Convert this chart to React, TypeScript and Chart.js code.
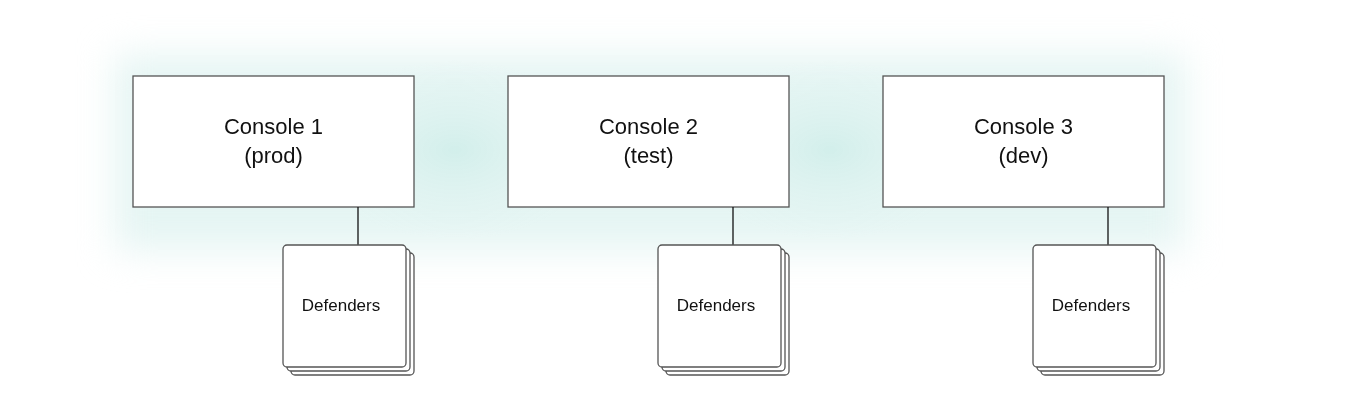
import { Chart } from "chart.js/auto"
import { useEffect, useRef } from "react"

// diagram layout in data units (x: 0..1372, y: 0..416 top-down)
const consoleTitles = ["Console 1", "Console 2", "Console 3"]
const consoleEnvs = ["(prod)", "(test)", "(dev)"]
const consoleLeft = [133, 508, 883]
const consoleWidth = 281
const consoleTop = 76
const consoleBottom = 207
const defenderLeft = [283, 658, 1033]
const defenderWidth = 123
const defenderTop = 245
const defenderBottom = 367
const defenderLabel = "Defenders"
const glowCenters = [455, 830]

const diagramPlugin = {
    id: "diagram",
    beforeDatasetsDraw(chart: any) {
        const ctx = chart.ctx
        const sx = chart.scales.x
        const sy = chart.scales.y
        const X = (v: number) => sx.getPixelForValue(v)
        const Y = (v: number) => sy.getPixelForValue(v)

        // soft teal band behind the boxes
        ctx.save()
        ctx.filter = "blur(18px)"
        ctx.fillStyle = "rgba(226,244,242,0.9)"
        ctx.fillRect(X(115), Y(55), X(1185) - X(115), Y(250) - Y(55))
        ctx.restore()
        glowCenters.forEach((c) => {
            ctx.save()
            ctx.translate(X(c), Y(150))
            ctx.scale(1.6, 1)
            const g = ctx.createRadialGradient(0, 0, 0, 0, 0, 90)
            g.addColorStop(0, "rgba(208,238,234,0.9)")
            g.addColorStop(1, "rgba(226,244,242,0)")
            ctx.fillStyle = g
            ctx.beginPath()
            ctx.arc(0, 0, 90, 0, Math.PI * 2)
            ctx.fill()
            ctx.restore()
        })

        ctx.lineWidth = 1.3
        ctx.strokeStyle = "#555"
        consoleLeft.forEach((left, i) => {
            const x0 = X(left), x1 = X(left + consoleWidth)
            const y0 = Y(consoleTop), y1 = Y(consoleBottom)
            ctx.fillStyle = "#fff"
            ctx.fillRect(x0, y0, x1 - x0, y1 - y0)
            ctx.strokeRect(x0, y0, x1 - x0, y1 - y0)
            ctx.fillStyle = "#111"
            ctx.font = "22px 'Liberation Sans', Arial, sans-serif"
            ctx.textAlign = "center"
            ctx.textBaseline = "middle"
            const cx = (x0 + x1) / 2
            ctx.fillText(consoleTitles[i], cx, Y(128))
            ctx.fillText(consoleEnvs[i], cx, Y(157))

            // connector
            const dl = defenderLeft[i]
            const lx = X(dl + 75)
            ctx.strokeStyle = "#111"
            ctx.beginPath()
            ctx.moveTo(lx, y1)
            ctx.lineTo(lx, Y(defenderTop))
            ctx.stroke()
            ctx.strokeStyle = "#555"

            // stacked defender cards
            for (let k = 2; k >= 0; k--) {
                const off = k * 4
                const dx0 = X(dl) + off, dx1 = X(dl + defenderWidth) + off
                const dy0 = Y(defenderTop) + off, dy1 = Y(defenderBottom) + off
                ctx.fillStyle = "#fff"
                ctx.beginPath()
                ctx.roundRect(dx0, dy0, dx1 - dx0, dy1 - dy0, 4)
                ctx.fill()
                ctx.stroke()
            }
            ctx.fillStyle = "#111"
            ctx.font = "17px 'Liberation Sans', Arial, sans-serif"
            ctx.fillText(defenderLabel, X(dl + 58), Y(306))
        })
    },
}

const App = () => {
    const canvasRef = useRef<HTMLCanvasElement | null>(null)

    useEffect(() => {
        if (!canvasRef.current) return
        const chart = new Chart(canvasRef.current, {
            type: "scatter",
            data: { datasets: [{ data: [], pointRadius: 0 }] },
            options: {
                animation: false,
                responsive: false,
                layout: { padding: 0 },
                plugins: { legend: { display: false }, tooltip: { enabled: false } },
                scales: {
                    x: { type: "linear", min: 0, max: 1372, display: false },
                    y: { type: "linear", min: 0, max: 416, reverse: true, display: false },
                },
            },
            plugins: [diagramPlugin],
        })
        return () => {
            chart.destroy()
        }
    }, [])

    return (
        <div style={{ position: "fixed", left: 0, top: 0, width: 1372, height: 416, background: "#fff" }}>
            <canvas ref={canvasRef} width={1372} height={416}></canvas>
        </div>
    )
}

export default App
